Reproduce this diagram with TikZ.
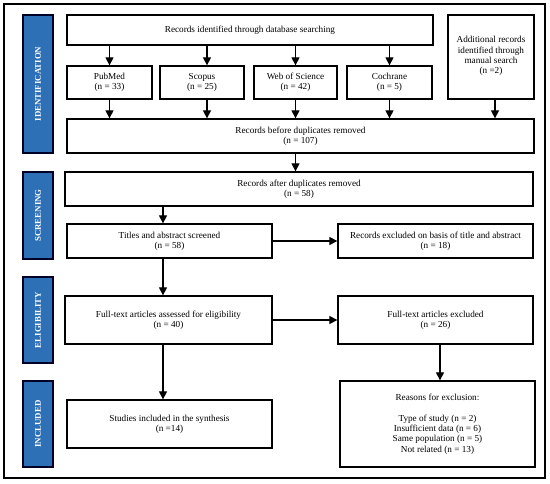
\documentclass[tikz,border=0pt]{standalone}
\usepackage{fontspec}
\setmainfont{Liberation Serif}
\usetikzlibrary{arrows.meta}
\definecolor{barblue}{RGB}{46,112,182}
\tikzset{
  box/.style={draw=black, line width=1.3pt, fill=white, align=center, font=\fontsize{9.2}{10.4}\selectfont, inner sep=0pt},
  bar/.style={draw=black!85!blue, line width=1.1pt, fill=barblue},
  barlabel/.style={rotate=90, text=white, font=\fontsize{8.8}{9}\selectfont\bfseries},
  arr/.style={-{Triangle[length=8pt,width=8pt]}, line width=1.2pt},
}
\begin{document}
\begin{tikzpicture}[x=1pt,y=-1pt]
\useasboundingbox (0,0) rectangle (550,483);
\draw[line width=1.2pt] (4,4) rectangle (545,478);
% phase bars
\foreach \ya/\yb/\t/\n in {15/153/IDENTIFICATION/bi, 172/259/SCREENING/bs, 277/363/ELIGIBILITY/be, 381/467/INCLUDED/bn}{
  \draw[bar] (23,\ya) rectangle (53,\yb);
  \node[barlabel] (\n) at (38,{(\ya+\yb)/2}) {\t};
}
% boxes
\node[box, minimum width=366pt, minimum height=30pt] (db) at (250,30) {Records identified through database searching};
\node[box, minimum width=85pt, minimum height=33pt] (pm) at (109.5,82.5) {PubMed\\(n = 33)};
\node[box, minimum width=84pt, minimum height=33pt] (sc) at (202,82.5) {Scopus\\(n = 25)};
\node[box, minimum width=83pt, minimum height=33pt] (ws) at (295.5,82.5) {Web of Science\\(n = 42)};
\node[box, minimum width=85pt, minimum height=33pt] (co) at (389.5,82.5) {Cochrane\\(n = 5)};
\node[box, minimum width=86pt, minimum height=84pt] (ad) at (491,57) {};
\node[align=center, font=\fontsize{9.2}{10.4}\selectfont] (adt) at (491,56) {Additional records\\identified through\\manual search\\(n =2)};
\node[box, minimum width=467pt, minimum height=34pt] (bd) at (300.5,136) {Records before duplicates removed\\(n = 107)};
\node[box, minimum width=468pt, minimum height=34pt] (ad2) at (299,189) {Records after duplicates removed\\(n = 58)};
\node[box, minimum width=205pt, minimum height=34pt] (ts) at (169.5,241) {Titles and abstract screened\\(n = 58)};
\node[box, minimum width=195pt, minimum height=34pt] (ex1) at (435.5,241) {Records excluded on basis of title and abstract\\(n = 18)};
\node[box, minimum width=207pt, minimum height=48pt] (ft) at (168.5,320) {Full-text articles assessed for eligibility\\(n = 40)};
\node[box, minimum width=195pt, minimum height=48pt] (fx) at (435.5,320) {Full-text articles excluded\\(n = 26)};
\node[box, minimum width=205pt, minimum height=48pt] (si) at (169.5,424) {Studies included in the synthesis\\(n =14)};
\node[box, minimum width=195pt, minimum height=86pt] (rx) at (437.5,424) {Reasons for exclusion:\\[10.4pt]Type of study (n = 2)\\Insufficient data (n = 6)\\Same population (n = 5)\\Not related (n = 13)};
% arrows
\draw[arr] (db.south -| pm) -- (pm.north);
\draw[arr] (db.south -| 207,0) -- (sc.north -| 207,0);
\draw[arr] (db.south -| ws) -- (ws.north);
\draw[arr] (db.south -| co) -- (co.north);
\draw[arr] (pm.south) -- (pm.south |- bd.north);
\draw[arr] (sc.south -| 207,0) -- (bd.north -| 207,0);
\draw[arr] (ws.south) -- (ws.south |- bd.north);
\draw[arr] (co.south) -- (co.south |- bd.north);
\draw[arr] (ad.south -| 495,0) -- (bd.north -| 495,0);
\draw[arr] (bd.south -| ws) -- (ad2.north -| ws);
\draw[arr] (ad2.south -| 163,0) -- (ts.north -| 163,0);
\draw[arr] (ts.east) -- (ex1.west);
\draw[arr] (ts.south -| 163,0) -- (ft.north -| 163,0);
\draw[arr] (ft.east) -- (fx.west);
\draw[arr] (ft.south -| 163,0) -- (si.north -| 163,0);
\draw[arr] (fx.south -| 440,0) -- (rx.north -| 440,0);
\end{tikzpicture}
\end{document}
